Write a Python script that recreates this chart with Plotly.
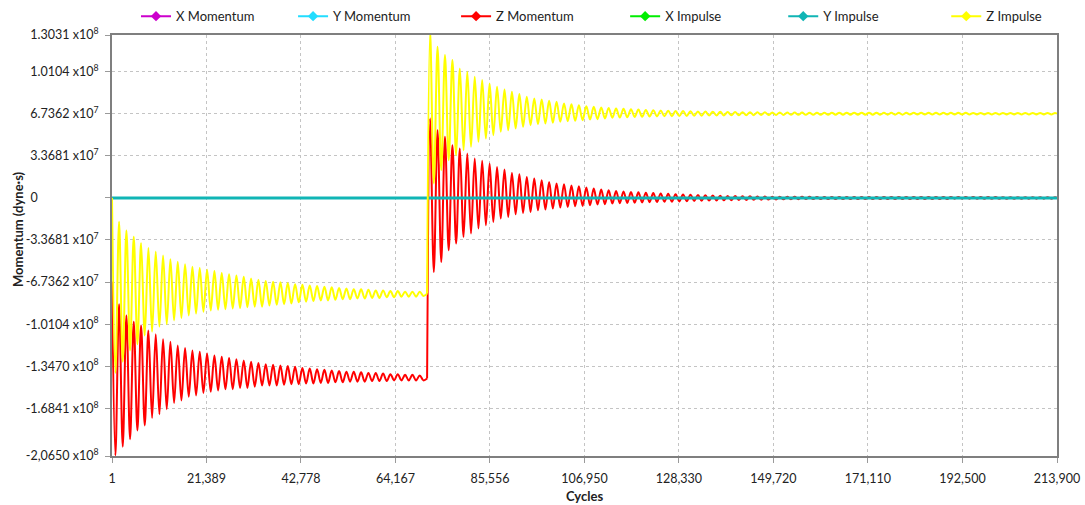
import numpy as np
import plotly.graph_objects as go

# ---- axis ticks ----
x_tick_vals = [1, 21389, 42778, 64167, 85556, 106950, 128330, 149720, 171110, 192500, 213900]
x_tick_text = ["1", "21,389", "42,778", "64,167", "85,556", "106,950", "128,330",
               "149,720", "171,110", "192,500", "213,900"]
y_tick_vals = [1.3031e8, 1.0104e8, 6.7362e7, 3.3681e7, 0, -3.3681e7, -6.7362e7,
               -1.0104e8, -1.3470e8, -1.6841e8, -2.0650e8]
y_tick_text = ["1.3031 x10<sup>8</sup>", "1.0104 x10<sup>8</sup>", "6.7362 x10<sup>7</sup>",
               "3.3681 x10<sup>7</sup>", "0" + "\u00a0" * 19, "-3.3681 x10<sup>7</sup>",
               "-6.7362 x10<sup>7</sup>", "-1.0104 x10<sup>8</sup>", "-1.3470 x10<sup>8</sup>",
               "-1.6841 x10<sup>8</sup>", "-2,0650 x10<sup>8</sup>"]

# ---- phase 1: cycles 1 .. jump (values in 1e7 dyne*s) ----
phase1_start_cycle = 1
phase1_first_extreme = 771
phase1_half_period = 830
jump_cycle = 71323

z_mom_start = -6.7
z_mom_p1_troughs = [-20.6, -19.9, -19.3, -18.6, -18.2, -17.6, -17.3, -16.9, -16.4, -16.2,
                    -15.9, -15.8, -15.6, -15.5, -15.4, -15.3, -15.3, -15.2, -15.2, -15.1,
                    -15.0, -15.0, -15.0, -14.95, -14.9, -14.9, -14.85, -14.85, -14.8, -14.8,
                    -14.75, -14.75, -14.7, -14.7, -14.7, -14.65, -14.65, -14.65, -14.6, -14.6,
                    -14.6, -14.6, -14.6]
z_mom_p1_peaks = [-8.5, -9.4, -9.9, -10.2, -10.6, -10.9, -11.3, -11.5, -11.8, -12.0,
                  -12.2, -12.3, -12.45, -12.6, -12.7, -12.8, -12.9, -13.0, -13.1, -13.2,
                  -13.3, -13.35, -13.4, -13.45, -13.5, -13.6, -13.65, -13.7, -13.75, -13.8,
                  -13.85, -13.9, -13.9, -13.95, -14.0, -14.0, -14.05, -14.1, -14.1, -14.15,
                  -14.15, -14.2]
z_mom_at_jump = -14.45

z_imp_start = 0.0
z_imp_p1_troughs = [-14.0, -13.1, -12.2, -11.7, -11.0, -10.7, -10.3, -10.1, -9.8, -9.6,
                    -9.4, -9.25, -9.1, -9.0, -8.95, -8.9, -8.85, -8.8, -8.75, -8.7,
                    -8.7, -8.6, -8.55, -8.5, -8.45, -8.35, -8.3, -8.25, -8.2, -8.2,
                    -8.15, -8.1, -8.1, -8.05, -8.05, -8.0, -8.0, -7.95, -7.95, -7.9,
                    -7.9, -7.9, -7.85]
z_imp_p1_peaks = [-1.9, -2.6, -3.1, -3.6, -4.0, -4.3, -4.6, -4.9, -5.1, -5.3,
                  -5.5, -5.6, -5.75, -5.85, -6.0, -6.1, -6.2, -6.3, -6.45, -6.55,
                  -6.65, -6.7, -6.75, -6.8, -6.9, -6.95, -7.0, -7.05, -7.1, -7.15,
                  -7.2, -7.25, -7.3, -7.3, -7.35, -7.4, -7.4, -7.45, -7.45, -7.5,
                  -7.5, -7.5]
z_imp_at_jump = -7.66

# ---- phase 2: jump .. 213,900 ----
phase2_first_extreme = 72000
phase2_half_period = 842
last_cycle = 213900

z_mom_p2_peaks = [6.36, 5.42, 4.89, 4.22, 3.96, 3.55, 3.15, 2.97, 2.75, 2.48,
                  2.27, 2.00, 1.90, 1.68, 1.55, 1.42, 1.28, 1.15, 1.10, 0.99,
                  0.94, 0.83, 0.75, 0.67, 0.62, 0.56, 0.52, 0.48, 0.45, 0.42,
                  0.39, 0.36, 0.33, 0.30, 0.28, 0.26, 0.24, 0.22, 0.20, 0.18,
                  0.16, 0.15, 0.14, 0.13, 0.12, 0.11, 0.10, 0.10, 0.09, 0.09,
                  0.09, 0.09, 0.08, 0.08, 0.08, 0.08, 0.08, 0.08, 0.08, 0.08,
                  0.08, 0.08, 0.08, 0.08, 0.08, 0.08, 0.08, 0.08, 0.08, 0.08,
                  0.08, 0.08, 0.08, 0.08, 0.07, 0.07, 0.07, 0.06, 0.06, 0.06,
                  0.06, 0.05, 0.05, 0.05, 0.05]
z_mom_p2_troughs = [-5.93, -5.13, -4.19, -3.65, -3.12, -2.85, -2.45, -2.19, -1.92, -1.65,
                    -1.52, -1.31, -1.20, -1.12, -0.99, -0.93, -0.85, -0.77, -0.72, -0.66,
                    -0.64, -0.58, -0.53, -0.50, -0.45, -0.42, -0.40, -0.38, -0.36, -0.34,
                    -0.32, -0.31, -0.30, -0.28, -0.26, -0.24, -0.22, -0.21, -0.20, -0.19,
                    -0.18, -0.17, -0.16, -0.15, -0.14, -0.13, -0.12, -0.11, -0.10, -0.10,
                    -0.09, -0.09, -0.09, -0.09, -0.09, -0.09, -0.09, -0.09, -0.09, -0.09,
                    -0.08, -0.08, -0.08, -0.08, -0.08, -0.08, -0.08, -0.08, -0.08, -0.08,
                    -0.07, -0.07, -0.07, -0.07, -0.07, -0.07, -0.07, -0.07, -0.06, -0.06,
                    -0.06, -0.06, -0.06, -0.06]
z_mom_end = 0.0

z_imp_p2_peaks = [13.4, 12.09, 11.43, 11.03, 10.36, 10.09, 9.69, 9.43, 9.16, 8.89,
                  8.68, 8.49, 8.31, 8.09, 7.96, 7.88, 7.77, 7.69, 7.56, 7.50,
                  7.42, 7.34, 7.29, 7.24, 7.20, 7.16, 7.13, 7.10, 7.07, 7.04,
                  7.02, 7.00, 6.98, 6.96, 6.95, 6.93, 6.92, 6.91, 6.90, 6.89,
                  6.88, 6.87, 6.86, 6.86, 6.85, 6.85, 6.84, 6.84, 6.83, 6.83,
                  6.83, 6.82, 6.82, 6.82, 6.82, 6.82, 6.82, 6.82, 6.82, 6.82,
                  6.82, 6.81, 6.81, 6.81, 6.81, 6.81, 6.81, 6.81, 6.81, 6.81,
                  6.81, 6.81, 6.81, 6.80, 6.80, 6.80, 6.80, 6.80, 6.80, 6.80,
                  6.80, 6.80, 6.80, 6.80, 6.80]
z_imp_p2_troughs = [1.15, 2.22, 3.02, 3.42, 3.82, 4.09, 4.49, 4.76, 5.02, 5.29,
                    5.42, 5.56, 5.69, 5.82, 5.90, 5.96, 6.01, 6.09, 6.14, 6.17,
                    6.22, 6.28, 6.30, 6.36, 6.41, 6.43, 6.45, 6.47, 6.49, 6.51,
                    6.52, 6.53, 6.54, 6.55, 6.56, 6.57, 6.58, 6.59, 6.60, 6.60,
                    6.61, 6.61, 6.62, 6.62, 6.63, 6.63, 6.64, 6.64, 6.65, 6.65,
                    6.65, 6.65, 6.65, 6.65, 6.66, 6.66, 6.66, 6.66, 6.66, 6.66,
                    6.66, 6.66, 6.66, 6.66, 6.67, 6.67, 6.67, 6.67, 6.67, 6.67,
                    6.67, 6.67, 6.67, 6.67, 6.68, 6.68, 6.68, 6.68, 6.68, 6.68,
                    6.68, 6.68, 6.68, 6.68]
z_imp_end = 6.74

# in-plane components stay at zero over the whole run
flat_cycles = [1, 213900]
x_momentum = [0, 0]
y_momentum = [0, 0]
x_impulse = [0, 0]
y_impulse = [0, 0]

SCALE = 1e7


def alternate(first, second):
    out = []
    for i in range(max(len(first), len(second))):
        if i < len(first):
            out.append(first[i])
        if i < len(second):
            out.append(second[i])
    return out


def phase(start_cycle, start_val, first_x, half, extremes, end_cycle, end_val):
    xs = [start_cycle] + [first_x + i * half for i in range(len(extremes))] + [end_cycle]
    ys = [start_val] + list(extremes) + [end_val]
    return np.array(xs, float), np.array(ys, float) * SCALE


def series(start, t1, p1, at_jump, p2, t2, end):
    x1, y1 = phase(phase1_start_cycle, start, phase1_first_extreme, phase1_half_period,
                   alternate(t1, p1), jump_cycle, at_jump)
    x2, y2 = phase(jump_cycle, at_jump, phase2_first_extreme, phase2_half_period,
                   alternate(p2, t2), last_cycle, end)
    return (x1, y1), (x2, y2)


z_mom = series(z_mom_start, z_mom_p1_troughs, z_mom_p1_peaks, z_mom_at_jump,
               z_mom_p2_peaks, z_mom_p2_troughs, z_mom_end)
z_imp = series(z_imp_start, z_imp_p1_troughs, z_imp_p1_peaks, z_imp_at_jump,
               z_imp_p2_peaks, z_imp_p2_troughs, z_imp_end)

names = ["X Momentum", "Y Momentum", "Z Momentum", "X Impulse", "Y Impulse", "Z Impulse"]
colors = ["#CC00CC", "#22DDFF", "#FF0000", "#00EE00", "#10B5B5", "#FFFF00"]
# left edge of each legend entry, as a fraction of the plot width
legend_x = [0.0254, 0.1916, 0.3641, 0.5430, 0.7103, 0.8828]

FONT = "Lato, Open Sans, sans-serif"
fig = go.Figure()


def flat(vals, color, width):
    fig.add_trace(go.Scatter(x=flat_cycles, y=vals, mode="lines", showlegend=False,
                             line=dict(color=color, width=width), hoverinfo="skip"))


def wave(parts, color):
    for xs, ys in parts:
        fig.add_trace(go.Scatter(x=xs, y=ys, mode="lines", showlegend=False,
                                 line=dict(color=color, width=2, shape="spline", smoothing=1.0),
                                 hoverinfo="skip"))


flat(x_momentum, colors[0], 2)
flat(y_momentum, colors[1], 2)
wave(z_mom, colors[2])
flat(x_impulse, colors[3], 2)
flat(y_impulse, colors[4], 3)
wave(z_imp, colors[5])

# one legend box per entry so every entry sits at its own spot
legend_layouts = {}
for i, (n, c, lx) in enumerate(zip(names, colors, legend_x)):
    key = "legend" if i == 0 else f"legend{i + 1}"
    fig.add_trace(go.Scatter(x=[None], y=[None], mode="lines+markers", name=n, legend=key,
                             line=dict(color=c, width=2),
                             marker=dict(color=c, size=8, symbol="diamond")))
    legend_layouts[key] = dict(orientation="h", x=lx, xanchor="left", y=1.009, yanchor="bottom",
                               bgcolor="rgba(0,0,0,0)", itemwidth=30,
                               font=dict(family=FONT, size=13, color="#222222"))

axis_common = dict(
    showgrid=True, gridcolor="#C4C4C4", griddash="dot", gridwidth=1,
    showline=True, linecolor="#7F7F7F", linewidth=2, mirror=True,
    ticks="outside", ticklen=5, tickcolor="#9A9A9A", zeroline=False,
)

fig.update_layout(
    width=1085, height=505,
    margin=dict(l=112, r=28, t=35, b=49, autoexpand=False),
    paper_bgcolor="white", plot_bgcolor="white",
    font=dict(family=FONT, size=13, color="#222222"),
    xaxis=dict(range=[1, 213900], tickmode="array", tickvals=x_tick_vals, ticktext=x_tick_text,
               ticklabelstandoff=5,
               tickfont=dict(family=FONT, size=12.5, color="#222222"),
               title=dict(text="<b>Cycles</b>", standoff=7, font=dict(size=13)),
               **axis_common),
    yaxis=dict(range=[-2.0650e8, 1.3031e8], tickmode="array", tickvals=y_tick_vals,
               ticktext=y_tick_text, ticklabelstandoff=4,
               tickfont=dict(family=FONT, size=12.5, color="#222222"),
               **axis_common),
    annotations=[dict(text="<b>Momentum (dyne·s)</b>", textangle=-90,
                      xref="paper", yref="paper", x=(18 - 112) / 944.7, y=(456 - 229) / 421,
                      xanchor="center", yanchor="middle", showarrow=False,
                      font=dict(family=FONT, size=13, color="#222222"))],
    showlegend=True,
    **legend_layouts,
)

fig.write_html("out.html")
